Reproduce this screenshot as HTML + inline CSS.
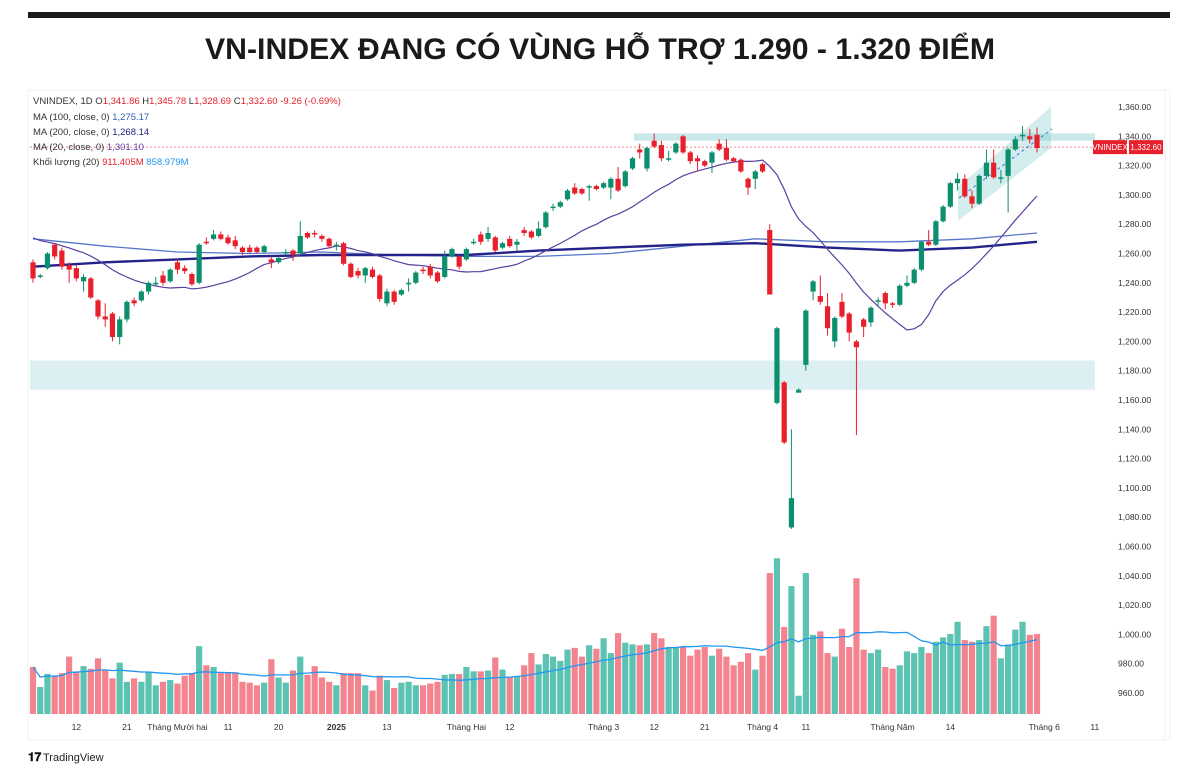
<!DOCTYPE html>
<html><head><meta charset="utf-8">
<style>
html,body{margin:0;padding:0;background:#fff;}
svg{display:block;font-family:"Liberation Sans",sans-serif;}
</style></head>
<body>
<svg id="chart" width="1200" height="775" viewBox="0 0 1200 775">
  <rect x="28" y="12" width="1142" height="6" fill="#1a1a1a"/>
  <text x="600" y="59" text-anchor="middle" font-size="30" font-weight="bold" fill="#1a1a1a" textLength="790" lengthAdjust="spacingAndGlyphs">VN-INDEX ĐANG CÓ VÙNG HỖ TRỢ 1.290 - 1.320 ĐIỂM</text>
  <rect x="28" y="90" width="1142" height="650" fill="#fff" stroke="#eef0f3"/>
  <line x1="1165" y1="90" x2="1165" y2="740" stroke="#eef0f3"/>
  <g id="zones"></g>
  <g id="mas"></g>
  <g id="vols"></g>
  <g id="candles"></g>
  <g id="axes"></g>
  <g id="legend" font-size="9.5">
    <text x="33" y="104" fill="#333">VNINDEX, 1D  O<tspan fill="#e8202b">1,341.86</tspan>  H<tspan fill="#e8202b">1,345.78</tspan>  L<tspan fill="#e8202b">1,328.69</tspan>  C<tspan fill="#e8202b">1,332.60  -9.26 (-0.69%)</tspan></text>
    <text x="33" y="120" fill="#333">MA (100, close, 0)  <tspan fill="#2f5fb0">1,275.17</tspan></text>
    <text x="33" y="135" fill="#333">MA (200, close, 0)  <tspan fill="#1d1d7a">1,268.14</tspan></text>
    <text x="33" y="150" fill="#333">MA (20, close, 0)  <tspan fill="#5b3fa0">1,301.10</tspan></text>
    <text x="33" y="165" fill="#333">Khối lượng (20)  <tspan fill="#e8202b">911.405M</tspan>  <tspan fill="#2196f3">858.979M</tspan></text>
  </g>
  <g>
    <text x="28" y="761" font-size="12" font-weight="bold" fill="#111">𝟏𝟕</text>
    <text x="43" y="761" font-size="11" fill="#222">TradingView</text>
  </g>
</svg>
<script>
const priorCloses=[1282,1280,1279,1281,1278,1276,1277,1275,1274,1276,1272,1270,1271,1268,1266,1265,1262,1260,1258];
const opens=[1254,1244,1250,1266,1262,1252,1250,1241,1243,1228,1217,1219,1203,1215,1228,1228,1234,1239,1245,1241,1254,1250,1246,1240,1268,1270,1273,1271,1269,1264,1264,1264,1261,1256,1254,1260,1262,1260,1274,1274,1272,1270,1265,1267,1253,1248,1245,1249,1245,1226,1234,1232,1239,1240,1249,1251,1247,1244,1258,1258,1256,1267,1273,1270,1271,1264,1270,1266,1276,1275,1272,1278,1291,1292,1297,1305,1304,1305,1306,1305,1305,1311,1306,1318,1331,1318,1337,1334,1324,1329,1340,1329,1325,1323,1322,1335,1332,1325,1324,1311,1311,1321,1276,1158,1172,1073,1165,1184,1234,1231,1224,1200,1227,1219,1200,1215,1213,1227,1233,1226,1225,1238,1240,1249,1268,1266,1282,1292,1308,1311,1299,1294,1313,1322,1311,1313,1331,1340,1340,1341];
const closes=[1243,1245,1260,1258,1251,1249,1243,1244,1230,1217,1215,1203,1215,1227,1226,1234,1240,1240,1240,1249,1249,1248,1239,1266,1267,1273,1270,1267,1265,1261,1261,1261,1265,1254,1257,1261,1259,1272,1271,1273,1270,1265,1266,1253,1244,1245,1250,1244,1229,1234,1227,1235,1240,1247,1248,1245,1241,1258,1263,1251,1263,1268,1268,1274,1262,1267,1265,1268,1274,1271,1277,1288,1292,1295,1303,1301,1301,1306,1304,1308,1311,1303,1316,1325,1329,1332,1333,1325,1325,1335,1329,1323,1323,1320,1329,1331,1324,1323,1316,1305,1316,1316,1232,1209,1131,1093,1167,1221,1241,1227,1209,1216,1217,1206,1196,1210,1223,1228,1226,1225,1238,1240,1249,1268,1266,1282,1292,1308,1311,1299,1294,1313,1322,1312,1312,1331,1338,1341,1338,1332];
const highs=[1256,1246,1261,1267,1264,1254,1252,1246,1244,1229,1226,1220,1217,1228,1230,1235,1241,1244,1248,1250,1256,1252,1247,1267,1271,1276,1275,1273,1272,1265,1266,1265,1266,1258,1258,1263,1263,1282,1275,1276,1273,1271,1268,1268,1254,1250,1251,1251,1246,1236,1235,1236,1243,1248,1251,1253,1248,1262,1264,1259,1264,1270,1275,1278,1272,1268,1272,1270,1278,1276,1282,1289,1294,1296,1304,1308,1305,1307,1307,1309,1312,1319,1317,1326,1335,1333,1342,1337,1330,1336,1341,1330,1327,1324,1330,1338,1338,1326,1325,1312,1317,1322,1280,1210,1173,1140,1168,1222,1242,1245,1233,1217,1233,1220,1201,1216,1224,1230,1234,1227,1239,1245,1250,1269,1276,1283,1293,1309,1315,1314,1303,1314,1331,1331,1317,1332,1340,1347,1345,1346];
const lows=[1240,1243,1249,1256,1249,1240,1241,1234,1229,1215,1210,1200,1198,1213,1224,1227,1232,1238,1238,1240,1246,1246,1238,1239,1266,1269,1269,1266,1263,1259,1260,1260,1260,1250,1253,1259,1255,1259,1270,1271,1268,1264,1262,1252,1243,1243,1240,1243,1227,1224,1225,1231,1234,1239,1246,1243,1240,1243,1257,1249,1255,1266,1266,1268,1261,1263,1264,1262,1272,1270,1271,1277,1289,1291,1296,1300,1300,1296,1303,1304,1297,1302,1305,1317,1325,1316,1332,1323,1323,1328,1328,1321,1316,1319,1315,1330,1323,1322,1315,1300,1304,1315,1232,1157,1130,1072,1165,1180,1228,1225,1204,1196,1216,1200,1136,1203,1210,1224,1222,1223,1224,1237,1239,1248,1265,1265,1281,1291,1303,1298,1291,1293,1311,1311,1308,1288,1330,1337,1335,1329];
const volumes=[54,31,46,43,47,66,49,55,52,64,51,41,59,37,41,37,48,33,37,39,35,44,47,78,56,54,48,48,48,37,36,33,36,63,42,36,50,66,45,55,42,37,33,47,47,47,33,27,44,39,30,36,37,33,33,35,37,45,46,46,54,49,49,50,65,51,43,43,56,70,57,69,66,61,74,76,66,79,75,87,70,93,82,80,79,80,93,87,77,77,77,67,74,77,67,75,66,56,60,70,51,67,162,179,100,147,21,162,91,95,70,66,98,77,156,74,70,74,54,52,56,72,70,77,70,83,88,92,106,85,83,85,101,113,64,80,97,106,91,92];
const ma100Samples=[1270,1265,1261,1260,1261,1259,1258,1258,1260,1265,1270,1268,1268,1270,1274];
const ma200Samples=[1251,1254,1256,1258,1259,1259,1259,1262,1264,1266,1267,1264,1262,1264,1268];
const maSampleIdx=[0,10,20,30,40,50,60,70,80,90,100,110,120,130,139];
const priceTicks=[1360,1340,1320,1300,1280,1260,1240,1220,1200,1180,1160,1140,1120,1100,1080,1060,1040,1020,1000,980,960];
const dateLabels=["12","21","Tháng Mười hai","11","20","2025","13","Tháng Hai","12","Tháng 3","12","21","Tháng 4","11","Tháng Năm","14","Tháng 6","11"];
const dateIdx=[6,13,20,27,34,42,49,60,66,79,86,93,101,107,119,127,140,147];
const lastPrice=1332.60;

const NS="http://www.w3.org/2000/svg";
const X0=33, STEP=(1037-33)/139;
function xs(i){return X0+i*STEP;}
function ys(p){return 107+(1360-p)*1.465;}
function vh(v){return v*0.87;}
function vy(v){return 714-vh(v);}
function mk(tag,attrs,parent){const e=document.createElementNS(NS,tag);for(const k in attrs)e.setAttribute(k,attrs[k]);parent.appendChild(e);return e;}
const GREEN="#0c8f6c", RED="#e8202b";

const zones=document.getElementById('zones');
let z=mk('rect',{x:30,y:ys(1187),width:1065,height:ys(1167)-ys(1187),fill:"#dcefF3"},zones);


z=mk('rect',{x:634,y:ys(1342),width:461,height:ys(1337)-ys(1342),fill:"#c8e8ea"},zones);


z=mk('polygon',{points:"958,187 1051,107 1051,148 958,221",fill:"rgba(130,200,205,0.35)"},zones);


z=mk('line',{x1:959,y1:198,x2:1052,y2:129,stroke:"#3a7bd5","stroke-dasharray":"3,3","stroke-width":1},zones);


z=mk('line',{x1:30,y1:ys(lastPrice),x2:1092,y2:ys(lastPrice),stroke:"#e8202b","stroke-dasharray":"2,2","stroke-width":0.8,opacity:0.7},zones);



const vols=document.getElementById('vols');
volumes.forEach((v,i)=>{
  const up=closes[i]>=opens[i];
  const r=mk('rect',{x:xs(i)-3.1,y:vy(v),width:6.2,height:vh(v),fill:up?"#5cc3b2":"#f3848f"},vols);
  
  
});
let vpts=[];
for(let i=0;i<volumes.length;i++){const s=volumes.slice(Math.max(0,i-19),i+1);vpts.push(xs(i).toFixed(1)+","+vy(s.reduce((a,b)=>a+b,0)/s.length).toFixed(1));}
let vl=mk('polyline',{points:vpts.join(" "),fill:"none",stroke:"#2196f3","stroke-width":1.3},vols);



const mas=document.getElementById('mas');
function samplePts(arr){return arr.map((p,k)=>xs(maSampleIdx[k]).toFixed(1)+","+ys(p).toFixed(1)).join(" ");}
let l=mk('polyline',{points:samplePts(ma100Samples),fill:"none",stroke:"#5677c9","stroke-width":1.3},mas);


l=mk('polyline',{points:samplePts(ma200Samples),fill:"none",stroke:"#23238a","stroke-width":2.4},mas);


const allC=priorCloses.concat(closes), P=priorCloses.length;
let mpts=[];
for(let i=0;i<closes.length;i++){const s=allC.slice(Math.max(0,i+P-19),i+P+1);mpts.push(xs(i).toFixed(1)+","+ys(s.reduce((a,b)=>a+b,0)/s.length).toFixed(1));}
l=mk('polyline',{points:mpts.join(" "),fill:"none",stroke:"#5b3fa0","stroke-width":1.2},mas);



const cg=document.getElementById('candles');
opens.forEach((o,i)=>{
  const c=closes[i],up=c>=o,col=up?GREEN:RED,x=xs(i);
  const g=mk('g',{},cg);
  
  
  mk('line',{x1:x,y1:ys(highs[i]),x2:x,y2:ys(lows[i]),stroke:col,"stroke-width":1},g);
  const top=ys(Math.max(o,c)),h=Math.max(1.5,ys(Math.min(o,c))-top);
  mk('rect',{x:x-2.6,y:top,width:5.2,height:h,fill:col},g);
});

const ax=document.getElementById('axes');
priceTicks.forEach(p=>{
  const t=mk('text',{x:1118,y:ys(p)+3,"font-size":8.5,fill:"#333"},ax);
  t.textContent=p.toLocaleString('en-US',{minimumFractionDigits:2});
  
  
});
dateLabels.forEach((d,k)=>{
  const t=mk('text',{x:xs(dateIdx[k]),y:730,"font-size":8.5,fill:"#333","text-anchor":"middle","font-weight":d==="2025"?"bold":"normal"},ax);
  t.textContent=d;
  
  
});
let b=mk('rect',{x:1093,y:ys(lastPrice)-7,width:34,height:14,fill:RED},ax);


let t=mk('text',{x:1110,y:ys(lastPrice)+3,"font-size":8,fill:"#fff","text-anchor":"middle"},ax);
t.textContent="VNINDEX";


b=mk('rect',{x:1129,y:ys(lastPrice)-7,width:34,height:14,fill:RED},ax);


t=mk('text',{x:1146,y:ys(lastPrice)+3,"font-size":8,fill:"#fff","text-anchor":"middle"},ax);
t.textContent=lastPrice.toLocaleString('en-US',{minimumFractionDigits:2});


</script>
</body></html>
